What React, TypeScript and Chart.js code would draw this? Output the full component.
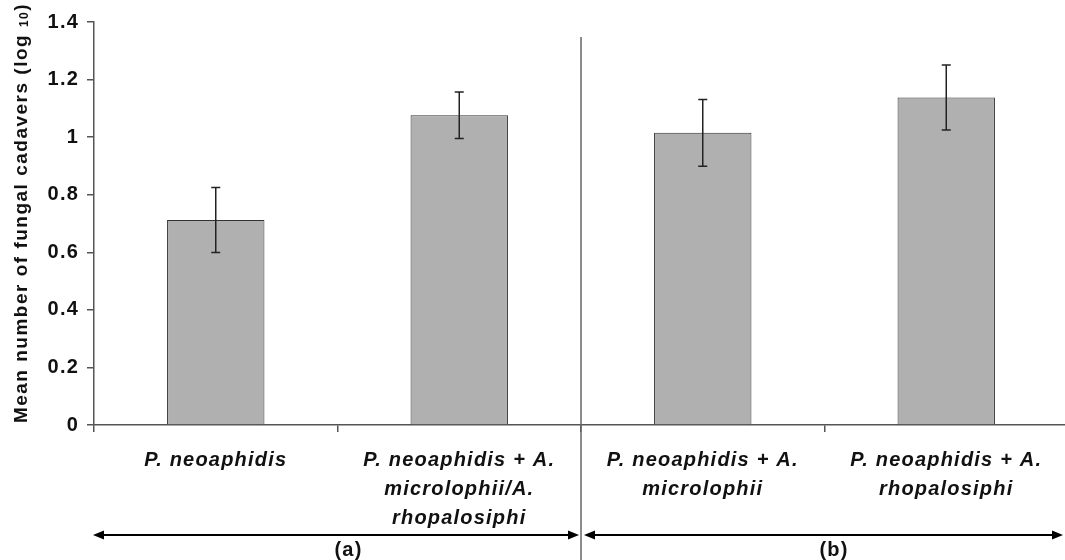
import React, { useEffect, useRef } from 'react';
import { Chart, registerables } from 'chart.js';

Chart.register(...registerables);

const categories: string[][] = [
  ['P. neoaphidis'],
  ['P. neoaphidis + A.', 'microlophii/A.', 'rhopalosiphi'],
  ['P. neoaphidis + A.', 'microlophii'],
  ['P. neoaphidis + A.', 'rhopalosiphi'],
];
const means: number[] = [0.712, 1.076, 1.015, 1.138];
const errors: number[] = [0.113, 0.081, 0.116, 0.113];
const yMin = 0;
const yMax = 1.4;
const yStep = 0.2;
const groupLabels: string[] = ['(a)', '(b)'];
const yTitleMain = 'Mean number of fungal cadavers (log';
const yTitleSub = '10';
const yTitleEnd = ')';

const FONT = "'Liberation Sans', Arial, Helvetica, sans-serif";
const SPACING = '1.2px';
const TITLE_SPACING = '1.5px';
const AXIS_COLOR = '#555555';
const TEXT_COLOR = '#111111';

const overlay = {
  id: 'overlay',
  beforeLayout(chart: any) {
    chart.ctx.letterSpacing = SPACING;
  },
  beforeDraw(chart: any) {
    chart.ctx.letterSpacing = SPACING;
  },
  afterDatasetsDraw(chart: any) {
    const ctx = chart.ctx;
    const xs = chart.scales.x;
    const ys = chart.scales.y;
    ctx.save();
    ctx.strokeStyle = '#222222';
    ctx.lineWidth = 1.5;
    means.forEach((m, i) => {
      const x = xs.getPixelForValue(i);
      const yTop = ys.getPixelForValue(m + errors[i]);
      const yBot = ys.getPixelForValue(m - errors[i]);
      ctx.beginPath();
      ctx.moveTo(x, yTop);
      ctx.lineTo(x, yBot);
      ctx.moveTo(x - 4.5, yTop);
      ctx.lineTo(x + 4.5, yTop);
      ctx.moveTo(x - 4.5, yBot);
      ctx.lineTo(x + 4.5, yBot);
      ctx.stroke();
    });
    ctx.restore();
  },
  afterDraw(chart: any) {
    const ctx = chart.ctx;
    const xs = chart.scales.x;
    const area = chart.chartArea;
    const half = (xs.getPixelForValue(1) - xs.getPixelForValue(0)) / 2;
    const leftB = xs.getPixelForValue(0) - half;
    const divX = (xs.getPixelForValue(1) + xs.getPixelForValue(2)) / 2;
    const rightB = xs.getPixelForValue(3) + half;

    ctx.save();
    // divider line
    ctx.strokeStyle = '#666666';
    ctx.lineWidth = 1.5;
    ctx.beginPath();
    ctx.moveTo(divX, area.top + 15);
    ctx.lineTo(divX, chart.height);
    ctx.stroke();

    // arrows
    const arrowY = area.bottom + 110;
    const drawArrow = (x1: number, x2: number) => {
      ctx.strokeStyle = '#000000';
      ctx.fillStyle = '#000000';
      ctx.lineWidth = 2;
      ctx.beginPath();
      ctx.moveTo(x1 + 6, arrowY);
      ctx.lineTo(x2 - 6, arrowY);
      ctx.stroke();
      ctx.beginPath();
      ctx.moveTo(x1, arrowY);
      ctx.lineTo(x1 + 11, arrowY - 4.5);
      ctx.lineTo(x1 + 11, arrowY + 4.5);
      ctx.closePath();
      ctx.fill();
      ctx.beginPath();
      ctx.moveTo(x2, arrowY);
      ctx.lineTo(x2 - 11, arrowY - 4.5);
      ctx.lineTo(x2 - 11, arrowY + 4.5);
      ctx.closePath();
      ctx.fill();
    };
    drawArrow(leftB - 1, divX - 2);
    drawArrow(divX + 3, rightB - 5);

    // group labels
    ctx.letterSpacing = SPACING;
    ctx.font = `bold 20px ${FONT}`;
    ctx.fillStyle = TEXT_COLOR;
    ctx.textAlign = 'center';
    ctx.textBaseline = 'middle';
    ctx.fillText(groupLabels[0], (leftB + divX) / 2 + 11, arrowY + 15);
    ctx.fillText(groupLabels[1], (divX + rightB - 5) / 2 + 12, arrowY + 15);

    // y title (rotated)
    ctx.letterSpacing = TITLE_SPACING;
    ctx.translate(22, 213);
    ctx.rotate(-Math.PI / 2);
    ctx.textAlign = 'left';
    ctx.textBaseline = 'middle';
    const mainFont = `bold 19px ${FONT}`;
    const subFont = `bold 12px ${FONT}`;
    ctx.font = mainFont;
    const w1 = ctx.measureText(yTitleMain + ' ').width;
    const w3 = ctx.measureText(yTitleEnd).width;
    ctx.font = subFont;
    const w2 = ctx.measureText(yTitleSub).width;
    const total = w1 + w2 + w3;
    let cx = -total / 2;
    ctx.font = mainFont;
    ctx.fillText(yTitleMain + ' ', cx, 0);
    cx += w1;
    ctx.font = subFont;
    ctx.fillText(yTitleSub, cx, 3);
    cx += w2;
    ctx.font = mainFont;
    ctx.fillText(yTitleEnd, cx, 0);
    ctx.restore();
  },
};

export default function App() {
  const canvasRef = useRef<HTMLCanvasElement | null>(null);

  useEffect(() => {
    const canvas = canvasRef.current;
    if (!canvas) return;
    const chart = new Chart(canvas, {
      type: 'bar',
      data: {
        labels: categories,
        datasets: [
          {
            data: means,
            backgroundColor: '#b0b0b0',
            borderColor: '#333333',
            borderWidth: 1,
            categoryPercentage: 1,
            barPercentage: 0.4,
          },
        ],
      },
      options: {
        animation: false,
        responsive: false,
        devicePixelRatio: 1,
        layout: { padding: { top: 22, right: 2, bottom: 0, left: 0 } },
        plugins: {
          legend: { display: false },
          tooltip: { enabled: false },
          title: { display: false },
        },
        scales: {
          x: {
            grid: {
              offset: true,
              drawOnChartArea: false,
              drawTicks: true,
              tickLength: 7,
              color: AXIS_COLOR,
              lineWidth: 1.5,
            },
            border: { display: true, color: AXIS_COLOR, width: 1.5 },
            ticks: {
              color: TEXT_COLOR,
              padding: 14,
              maxRotation: 0,
              autoSkip: false,
              font: { family: FONT, size: 20, weight: 'bold', style: 'italic', lineHeight: 1.45 },
            },
            afterFit: (scale: any) => {
              scale.height = 135;
            },
          },
          y: {
            min: yMin,
            max: yMax,
            grid: {
              drawOnChartArea: false,
              drawTicks: true,
              tickLength: 7,
              color: AXIS_COLOR,
              lineWidth: 1.5,
            },
            border: { display: true, color: AXIS_COLOR, width: 1.5 },
            ticks: {
              stepSize: yStep,
              color: TEXT_COLOR,
              padding: 8,
              font: { family: FONT, size: 20, weight: 'bold' },
              callback: (v: any) => String(Number(Number(v).toFixed(1))),
            },
            afterFit: (scale: any) => {
              scale.width = 94;
            },
          },
        },
      },
      plugins: [overlay],
    });
    return () => chart.destroy();
  }, []);

  return (
    <div
      style={{
        position: 'fixed',
        left: 0,
        top: 0,
        width: 1065,
        height: 560,
        overflow: 'hidden',
        background: '#ffffff',
      }}
    >
      <canvas ref={canvasRef} width={1070} height={560} style={{ display: 'block' }} />
    </div>
  );
}
